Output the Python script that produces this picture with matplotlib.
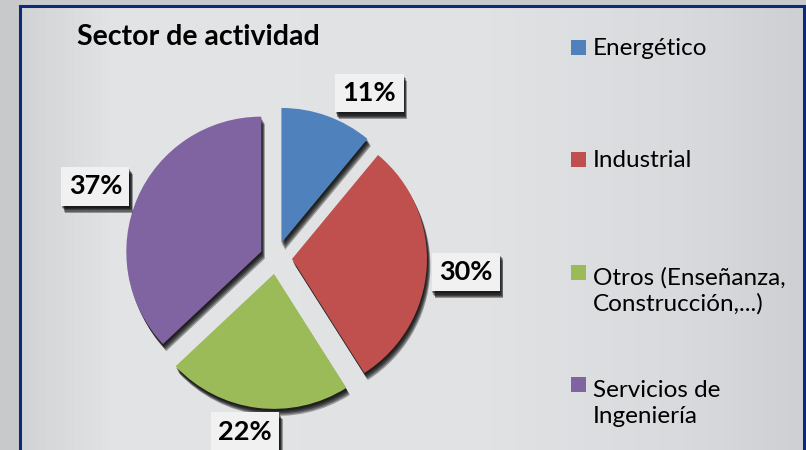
import numpy as np
import matplotlib.pyplot as plt
import matplotlib.patheffects as pe
from matplotlib.patches import Rectangle
from matplotlib.colors import LinearSegmentedColormap

# datos del grafico
sectores = ['Energético', 'Industrial', 'Otros (Enseñanza,\nConstrucción,...)', 'Servicios de\nIngeniería']
porcentajes = [11, 30, 22, 37]
colores = ['#4F81BD', '#C0504D', '#9BBB59', '#8064A2']

W, H = 806, 450
FONT = ['Lato', 'DejaVu Sans']


def Y(y):
    # coordenada de imagen (desde arriba) a coordenada del eje
    return H - y


def sombra(n=5, alpha=0.32):
    efectos = []
    for k in range(n):
        efectos.append(pe.SimplePatchShadow(offset=(0.5 + 0.5 * k, -1.5 - 0.9 * k),
                                            shadow_rgbFace='black', alpha=alpha))
    efectos.append(pe.Normal())
    return efectos


fig = plt.figure(figsize=(W / 100, H / 100), dpi=100)
fig.patch.set_facecolor('#C8C9CB')
ax = fig.add_axes([0, 0, 1, 1])
ax.set_xlim(0, W)
ax.set_ylim(0, H)
ax.set_aspect('equal')
ax.axis('off')

# fondo con degradado dentro del marco
cmap = LinearSegmentedColormap.from_list('fondo', [(0.0, '#D2D3D5'), (0.12, '#E3E4E6'),
                                                   (0.6, '#E1E2E4'), (0.85, '#D9DADD'),
                                                   (1.0, '#CFD0D3')])
ax.imshow(np.linspace(0, 1, 200)[None, :], cmap=cmap, aspect='auto',
          extent=(20, 804, Y(455), Y(6)), zorder=0)
ax.add_patch(Rectangle((20, Y(455)), 784, 449, fill=False, ec='#0B2A78', lw=2.2, zorder=1))

# tarta
radio = 135
centro = (276, Y(258))
wedges, _, autotexts = ax.pie(porcentajes, colors=colores, startangle=90, counterclock=False,
                              radius=radio, center=centro, explode=[16] * 4,
                              autopct='%d%%', pctdistance=1.29, frame=True,
                              wedgeprops=dict(linewidth=0))
ax.set_xlim(0, W)
ax.set_ylim(0, H)
ax.axis('off')
for w in wedges:
    w.set_path_effects(sombra())
    w.set_zorder(3)

# ajuste fino de posicion de las etiquetas (pixeles)
ajustes = [(29, -14), (0, -2), (-7, 15), (-6, -4)]
for t, (dx, dy) in zip(autotexts, ajustes):
    x, y = t.get_position()
    t.set_position((x + dx, y + dy))
    t.set_fontfamily(FONT)
    t.set_fontweight('bold')
    t.set_fontsize(19.5)
    t.set_color('black')
    t.set_zorder(5)
    t.set_bbox(dict(boxstyle='square,pad=0.27', fc='#F1F1F2', ec='none'))
    t.get_bbox_patch().set_path_effects(sombra(5, 0.34))

# titulo
ax.text(198, Y(37), 'Sector de actividad', family=FONT, fontsize=20.5, fontweight='bold',
        ha='center', va='center', color='black', zorder=5)

# leyenda (la base indicada es la de la primera linea)
bases = [55, 167, 280, 392]
salto = 31
for lab, col, b in zip(sectores, colores, bases):
    n = lab.count('\n')
    ax.add_patch(Rectangle((571, Y(b)), 15, 15, fc=col, ec='none', zorder=5))
    ax.text(593, Y(b + n * salto), lab, family=FONT, fontsize=17.5, ha='left', va='baseline',
            linespacing=1.3, color='black', zorder=5)

plt.savefig('out.png', dpi=100)
